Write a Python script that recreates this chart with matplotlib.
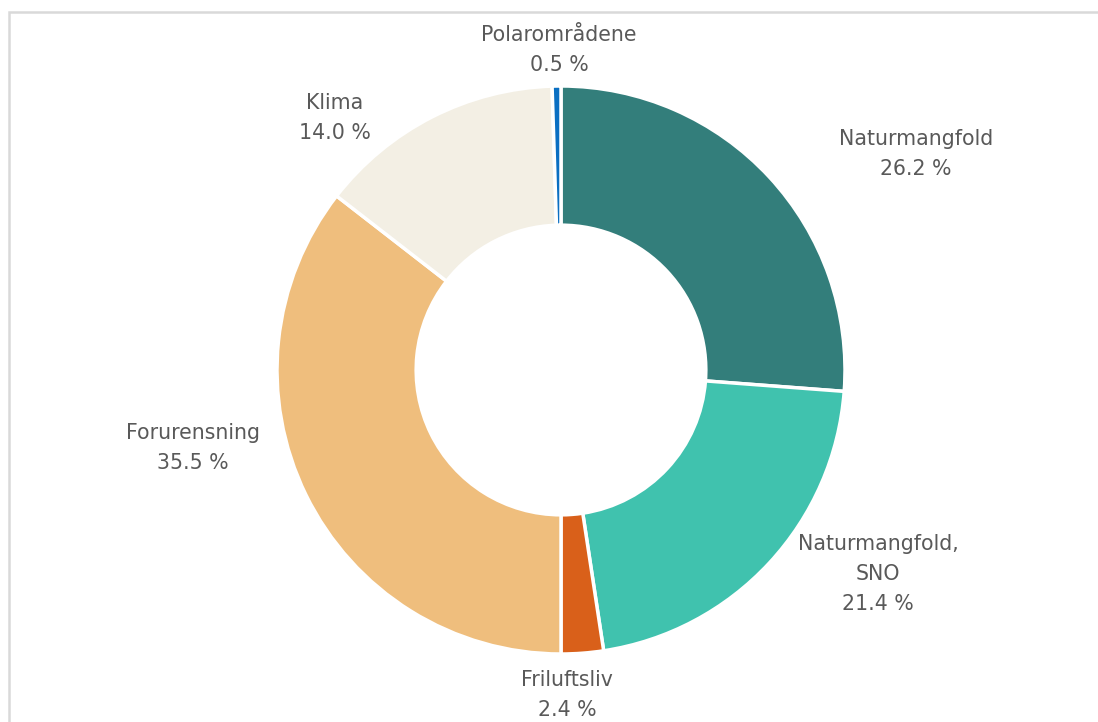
import matplotlib
matplotlib.use("Agg")
import matplotlib.pyplot as plt
from matplotlib.patches import Rectangle

# ---- data ----
categories = ["Naturmangfold", "Naturmangfold,\nSNO", "Friluftsliv",
              "Forurensning", "Klima", "Polarområdene"]
shares = [26.2, 21.4, 2.4, 35.5, 14.0, 0.5]
colors = ["#337E7B", "#40C2AE", "#D9601A", "#EFBE7D", "#F3EFE4", "#0A6FC2"]

# ---- layout (pixel space) ----
W, H = 1098, 722
cx, cy = 561, 722 - 370
R = 284
hole = 0.51
label_pos = [(916, 154), (878, 574), (567, 695), (193, 448), (335, 118), (559, 50)]

fig = plt.figure(figsize=(W / 100, H / 100), dpi=100)
ax = fig.add_axes([0, 0, 1, 1])

# chart border
ax.add_patch(Rectangle((9, -20), W + 40, (H - 12) + 20, fill=False,
                       edgecolor="#D9D9D9", linewidth=1.8, clip_on=False))

wedges, _ = ax.pie(shares, colors=colors, startangle=90, counterclock=False,
                   center=(cx, cy), radius=R, frame=True,
                   wedgeprops=dict(width=R * (1 - hole), edgecolor="white",
                                   linewidth=2.5))
ax.set_xlim(0, W)
ax.set_ylim(0, H)
ax.set_aspect("equal")
ax.axis("off")

for cat, val, (lx, ly) in zip(categories, shares, label_pos):
    ax.text(lx, H - ly, f"{cat}\n{val:.1f} %", ha="center", va="center",
            fontsize=14.8, color="#595959", family="DejaVu Sans",
            linespacing=1.6)

fig.savefig("out.png", dpi=100)
